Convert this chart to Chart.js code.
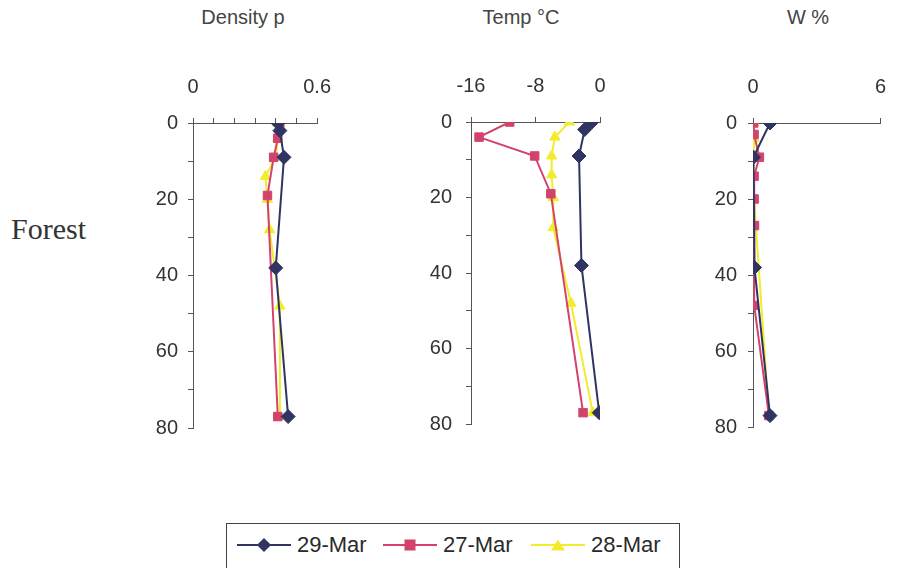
<!DOCTYPE html>
<html>
<head>
<meta charset="utf-8">
<script src="https://cdn.jsdelivr.net/npm/chart.js@4"></script>
<style>
  body { margin: 0; background: #fff; }
  #wrap { position: relative; width: 905px; height: 568px; overflow: hidden; background: #fff; }
  canvas { position: absolute; }
  .title { position: absolute; top: 6px; font: 20px "Liberation Sans", Arial, sans-serif; color: #444; transform: translateX(-50%); white-space: nowrap; }
  #site { position: absolute; left: 11px; top: 212px; font: 30px "Liberation Serif", "Times New Roman", serif; color: #333; }
  #legend { position: absolute; left: 226px; top: 523px; width: 454px; height: 60px; border: 1px solid #444; box-sizing: border-box; }
  .item { position: absolute; top: 8px; height: 26px; display: flex; align-items: center; }
  .sample { position: relative; width: 54px; height: 26px; }
  .sample .ln { position: absolute; left: 0; right: 0; top: 12px; height: 2px; }
  .sample .mk { position: absolute; left: 50%; top: 13px; transform: translate(-50%, -50%); }
  .lbl { margin-left: 6px; font: 22px "Liberation Sans", Arial, sans-serif; color: #2a2a2a; }
</style>
</head>
<body>
<div id="wrap">
  <div class="title" style="left:243px">Density p</div>
  <div class="title" style="left:521px">Temp °C</div>
  <div class="title" style="left:808px">W %</div>
  <div id="site">Forest</div>
  <canvas id="density" width="230" height="390" style="left:120px;top:60px"></canvas>
  <canvas id="temp" width="230" height="390" style="left:400px;top:60px"></canvas>
  <canvas id="water" width="225" height="390" style="left:680px;top:60px"></canvas>
  <div id="legend"></div>
</div>
<script>
// series labels and colours
const seriesNames = ['29-Mar', '27-Mar', '28-Mar'];
const seriesColors = ['#2f3463', '#d2436c', '#f2ec2a'];
const seriesPoints = ['rectRot', 'rect', 'triangle'];

// depth (cm) of each sample, per date
const depth29 = [0, 2, 9, 38, 77];
const depth27 = [0, 4, 9, 19, 77];
const depth28 = [0, 4, 9, 14, 20, 28, 48, 77];
const depth29w = [0, 9, 38, 77];
const depth27w = [0, 3, 9, 14, 20, 27, 48, 77];
const depth28w = [0, 4, 9, 20, 77];

// density
const density29 = [0.41, 0.42, 0.44, 0.40, 0.46];
const density27 = [0.42, 0.41, 0.39, 0.36, 0.41];
const density28 = [0.41, 0.41, 0.40, 0.35, 0.36, 0.37, 0.42, 0.42];

// temperature
const temp29 = [-1.0, -1.9, -2.6, -2.3, -0.1];
const temp27 = [-11.2, -15.0, -8.1, -6.1, -2.1];
const temp28 = [-3.8, -5.6, -6.0, -6.0, -5.8, -5.8, -3.6, -0.9];

// water content
const water29 = [0.8, 0.02, 0.07, 0.8];
const water27 = [0.03, 0.05, 0.3, 0.05, 0.05, 0.07, 0.05, 0.75];
const water28 = [0.03, 0.05, 0.03, 0.05, 0.75];

const depthTickLabels = [0, 20, 40, 60, 80];

const tickFont = { family: '"Liberation Sans", Arial, sans-serif', size: 20 };

function zip(xs, ys) {
  return xs.map((x, i) => ({ x, y: ys[i] }));
}

function makeDatasets(lists) {
  return lists.map((pts, i) => ({
    label: seriesNames[i],
    data: pts,
    showLine: true,
    borderColor: seriesColors[i],
    backgroundColor: seriesColors[i],
    borderWidth: 2,
    pointStyle: seriesPoints[i],
    pointRadius: i === 0 ? 7 : 6,
    pointBorderWidth: 1,
    tension: 0
  }));
}

function makePanel(id, lists, xs) {
  const sameAs = (v, l) => Math.abs(v - l) < 1e-6;
  new Chart(document.getElementById(id), {
    type: 'scatter',
    data: { datasets: makeDatasets(lists) },
    options: {
      responsive: false,
      animation: false,
      devicePixelRatio: 1,
      layout: { padding: { left: 0, right: xs.padRight, top: 0, bottom: xs.padBottom } },
      plugins: { legend: { display: false }, tooltip: { enabled: false } },
      scales: {
        x: {
          type: 'linear',
          position: 'top',
          min: xs.min,
          max: xs.max,
          ticks: {
            stepSize: xs.step,
            autoSkip: false,
            maxRotation: 0,
            padding: 19,
            color: '#333',
            font: tickFont,
            callback: v => {
              const hit = xs.labels.find(l => sameAs(v, l));
              return hit !== undefined ? String(hit) : '';
            }
          },
          grid: { display: true, drawOnChartArea: false, tickLength: 5, color: '#555' },
          border: { color: '#555', width: 1 },
          afterFit: s => { s.height = xs.axisH; }
        },
        y: {
          type: 'linear',
          reverse: true,
          min: 0,
          max: 80,
          ticks: {
            stepSize: 10,
            autoSkip: false,
            padding: xs.yPad,
            color: '#333',
            font: tickFont,
            callback: v => depthTickLabels.includes(v) ? String(v) : ''
          },
          grid: { display: true, drawOnChartArea: false, tickLength: 5, color: '#555' },
          border: { color: '#555', width: 1 },
          afterFit: s => { s.width = xs.axisW; }
        }
      }
    }
  });
}

makePanel('density', [
  zip(density29, depth29), zip(density27, depth27), zip(density28, depth28)
], { min: 0, max: 0.6, step: 0.1, labels: [0, 0.6], axisH: 63, axisW: 73, yPad: 10, padRight: 31, padBottom: 15 });

makePanel('temp', [
  zip(temp29, depth29), zip(temp27, depth27), zip(temp28, depth28)
], { min: -16, max: 0, step: 8, labels: [-16, -8, 0], axisH: 62, axisW: 71, yPad: 14, padRight: 30, padBottom: 16 });

makePanel('water', [
  zip(water29, depth29w), zip(water27, depth27w), zip(water28, depth28w)
], { min: 0, max: 6, step: 6, labels: [0, 6], axisH: 63, axisW: 73, yPad: 11, padRight: 13, padBottom: 21 });

// legend
const legendX = [10, 156, 304];
const legend = document.getElementById('legend');
const markerCss = [
  'width:10px;height:10px;background:' + seriesColors[0] + ';transform:translate(-50%,-50%) rotate(45deg);',
  'width:11px;height:11px;background:' + seriesColors[1] + ';',
  'width:0;height:0;border-left:7px solid transparent;border-right:7px solid transparent;border-bottom:11px solid ' + seriesColors[2] + ';'
];
seriesNames.forEach((name, i) => {
  const item = document.createElement('div');
  item.className = 'item';
  item.style.left = legendX[i] + 'px';
  item.innerHTML = `<div class="sample"><div class="ln" style="background:${seriesColors[i]}"></div>` +
    `<div class="mk" style="${markerCss[i]}"></div></div><span class="lbl">${name}</span>`;
  legend.appendChild(item);
});
</script>
</body>
</html>
